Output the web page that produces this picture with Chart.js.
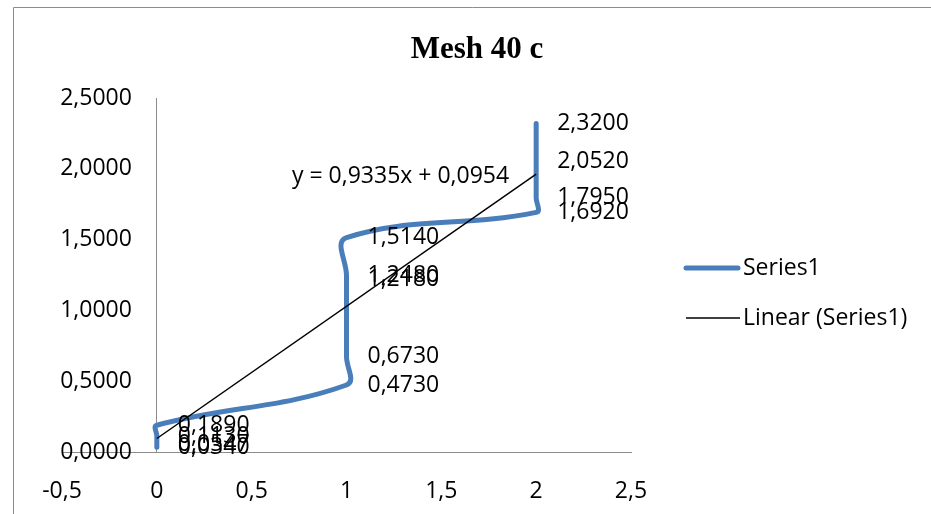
<!DOCTYPE html>
<html>
<head>
<meta charset="utf-8">
<script src="https://cdn.jsdelivr.net/npm/chart.js@4"></script>
<style>
  html, body { margin: 0; padding: 0; background: #fff; overflow: hidden; }
  canvas { display: block; }
</style>
</head>
<body>
<canvas id="meshChart" width="931" height="514"></canvas>
<script>
// Data (Mesh 40 c)
const xValues = [0, 0, 0, 0, 1, 1, 1, 1, 1, 2, 2, 2, 2];
const yValues = [0.0340, 0.0547, 0.1130, 0.1890, 0.4730, 0.6730, 1.2180, 1.2480, 1.5140, 1.6920, 1.7950, 2.0520, 2.3200];
const xTicks = [-0.5, 0, 0.5, 1, 1.5, 2, 2.5];
const yTicks = [0, 0.5, 1, 1.5, 2, 2.5];
const seriesName = 'Series1';
const chartTitle = 'Mesh 40 c';

const LABEL_FONT = '23px "Open Sans"';
const comma = s => s.replace('.', ',');

// least squares trendline, like Excel's "Linear (Series1)"
const n = xValues.length;
const mx = xValues.reduce((a, b) => a + b, 0) / n;
const my = yValues.reduce((a, b) => a + b, 0) / n;
let sxy = 0, sxx = 0;
xValues.forEach((xv, i) => { sxy += (xv - mx) * (yValues[i] - my); sxx += (xv - mx) * (xv - mx); });
const slope = sxy / sxx;
const intercept = my - slope * mx;
const xMin = Math.min(...xValues), xMax = Math.max(...xValues);
const trendPoints = [xMin, xMax].map(xv => ({ x: xv, y: slope * xv + intercept }));
const equation = 'y = ' + comma(slope.toFixed(4)) + 'x + ' + comma(intercept.toFixed(4));

const points = xValues.map((xv, i) => ({ x: xv, y: yValues[i] }));

// Title, frame, y tick labels, data labels, equation and legend
const overlay = {
  id: 'overlay',
  beforeDraw(chart) {
    const ctx = chart.ctx;
    ctx.save();
    ctx.fillStyle = '#fff';
    ctx.fillRect(0, 0, chart.width, chart.height);
    ctx.strokeStyle = '#8c8c8c';
    ctx.lineWidth = 1;
    ctx.beginPath();
    ctx.moveTo(13.5, chart.height);
    ctx.lineTo(13.5, 7.5);
    ctx.lineTo(chart.width, 7.5);
    ctx.stroke();
    ctx.restore();
  },
  afterDraw(chart) {
    const { ctx, scales: { x, y } } = chart;
    ctx.save();
    ctx.fillStyle = '#000';
    ctx.font = 'bold 31px "Liberation Serif"';
    ctx.textAlign = 'center';
    ctx.textBaseline = 'middle';
    ctx.fillText(chartTitle, 477, 50);

    ctx.font = LABEL_FONT;
    // y tick labels sit left of the x = 0 axis
    ctx.textAlign = 'right';
    yTicks.forEach(v => {
      ctx.fillText(comma(v.toFixed(4)), x.getPixelForValue(0) - 25, y.getPixelForValue(v));
    });

    ctx.textAlign = 'left';
    points.forEach(p => {
      ctx.fillText(comma(p.y.toFixed(4)), x.getPixelForValue(p.x) + 21, y.getPixelForValue(p.y));
    });

    const end = trendPoints[trendPoints.length - 1];
    ctx.textAlign = 'right';
    ctx.fillText(equation, x.getPixelForValue(end.x) - 27, y.getPixelForValue(end.y) + 2);

    // legend
    ctx.textAlign = 'left';
    ctx.lineCap = 'round';
    ctx.strokeStyle = '#4A7EBB';
    ctx.lineWidth = 5;
    ctx.beginPath(); ctx.moveTo(686, 268); ctx.lineTo(738, 268); ctx.stroke();
    ctx.fillText(seriesName, 743, 268);
    ctx.lineCap = 'butt';
    ctx.strokeStyle = '#000';
    ctx.lineWidth = 1.5;
    ctx.beginPath(); ctx.moveTo(686, 318); ctx.lineTo(740, 318); ctx.stroke();
    ctx.fillText('Linear (' + seriesName + ')', 743, 318);
    ctx.restore();
  }
};

new Chart(document.getElementById('meshChart'), {
  type: 'scatter',
  data: {
    datasets: [
      {
        label: seriesName,
        data: points,
        showLine: true,
        borderColor: '#4A7EBB',
        borderWidth: 5,
        borderCapStyle: 'round',
        borderJoinStyle: 'round',
        tension: 0.4,
        pointRadius: 0,
        order: 2
      },
      {
        label: 'Linear (' + seriesName + ')',
        data: trendPoints,
        showLine: true,
        borderColor: '#000',
        borderWidth: 1.5,
        pointRadius: 0,
        order: 1
      }
    ]
  },
  options: {
    responsive: false,
    animation: false,
    layout: { padding: { left: 62, top: 98, right: 300, bottom: 62 } },
    plugins: {
      legend: { display: false },
      title: { display: false },
      tooltip: { enabled: false }
    },
    scales: {
      x: {
        type: 'linear',
        min: -0.5,
        max: 2.5,
        position: { y: 0 },
        afterBuildTicks: s => { s.ticks = xTicks.map(v => ({ value: v })); },
        grid: { display: false, drawTicks: false },
        border: { display: true, color: '#8c8c8c', width: 1 },
        ticks: {
          padding: 26,
          color: '#000',
          font: { family: 'Open Sans', size: 23 },
          callback: v => comma(String(v))
        }
      },
      y: {
        type: 'linear',
        min: 0,
        max: 2.5,
        position: { x: 0 },
        afterBuildTicks: s => { s.ticks = yTicks.map(v => ({ value: v })); },
        grid: { display: false, drawTicks: false },
        border: { display: true, color: '#8c8c8c', width: 1 },
        ticks: { display: false }
      }
    }
  },
  plugins: [overlay]
});
</script>
</body>
</html>
